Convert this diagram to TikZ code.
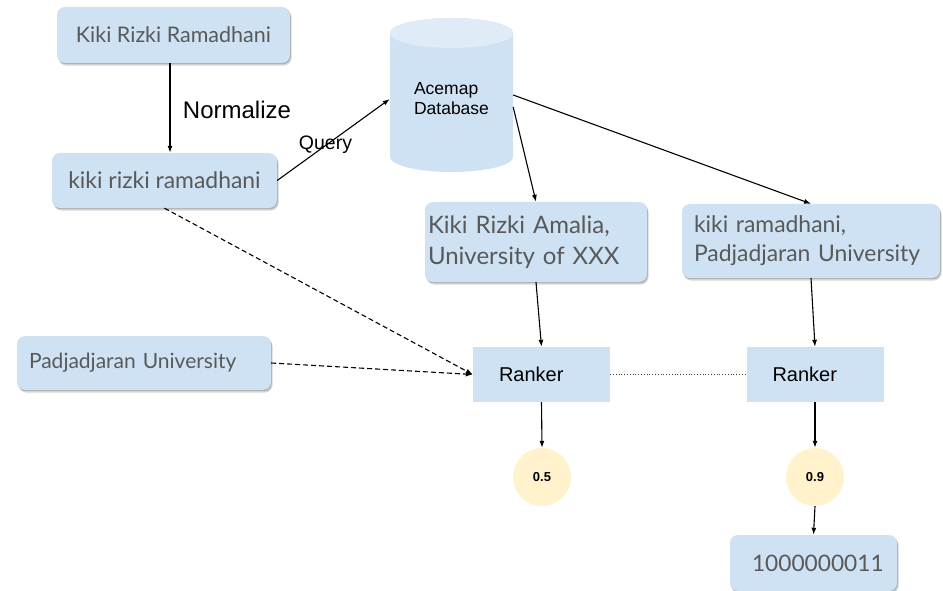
\documentclass[tikz,border=0pt]{standalone}
\usepackage{fontspec}
\setmainfont{Liberation Sans}
\newfontfamily\lato{Lato}
\usetikzlibrary{arrows.meta,shadows}
\definecolor{boxblue}{HTML}{CFE2F3}
\definecolor{dbtop}{HTML}{DFEBF7}
\definecolor{scorefill}{HTML}{FFF2CC}
\definecolor{labelgray}{HTML}{595959}
\tikzset{
  softshadow/.style={
    general shadow={shadow xshift=0.8pt, shadow yshift=-1.2pt, fill=black, opacity=0.18},
    general shadow={shadow xshift=1.6pt, shadow yshift=-2.6pt, fill=black, opacity=0.16}},
  namebox/.style={rounded corners=8pt, fill=boxblue, softshadow, text=labelgray,
    font=\lato\fontsize{21.5}{30}\selectfont, inner ysep=0pt},
  rankbox/.style={fill=boxblue, minimum width=137pt, minimum height=55pt,
    inner xsep=26pt, text width=85pt, align=left,
    font=\fontsize{20}{24}\selectfont},
  score/.style={circle, fill=scorefill, minimum size=58pt, inner sep=0pt,
    font=\bfseries\fontsize{13}{15}\selectfont},
  arr/.style={-{Latex[length=7pt,width=5pt]}, line width=1.1pt},
  dasharr/.style={arr, dash pattern=on 5pt off 3pt},
}
\begin{document}
\begin{tikzpicture}[x=1pt, y=-1pt]
\useasboundingbox (0,0) rectangle (943,591);

% database cylinder
\fill[boxblue] (390,33) -- (390,157)
  arc[start angle=180, end angle=0, x radius=61.5, y radius=15]
  -- (513,33) arc[start angle=0, end angle=-180, x radius=61.5, y radius=15] -- cycle;
\fill[dbtop] (451.5,33) ellipse [x radius=61.5, y radius=15];
\node (db) at (451.5,99) [minimum width=123pt, minimum height=154pt, inner sep=0pt,
  align=left, font=\fontsize{17.5}{20}\selectfont] {Acemap\\Database};

% name boxes
\node[namebox, minimum width=233pt, minimum height=56pt] (raw) at (173.5,35) {Kiki Rizki Ramadhani};
\node[namebox, minimum width=225pt, minimum height=55pt,
  font=\lato\fontsize{22.9}{30}\selectfont] (norm) at (164.5,180.5) {kiki rizki ramadhani};
\node[namebox, minimum height=54pt, inner xsep=12pt, text width=230pt, align=left,
  font=\lato\fontsize{21}{26}\selectfont] (aff) at (144,363) {Padjadjaran University};
\node[namebox, minimum height=80pt, inner xsep=3pt, text width=216pt, align=left,
  font=\lato\fontsize{24}{31}\selectfont] (candA) at (536,242)
  {Kiki Rizki Amalia,\\University of XXX};
\node[namebox, minimum height=74pt, inner xsep=12pt, text width=234pt, align=left,
  font=\lato\fontsize{22.9}{29}\selectfont] (candB) at (811,241)
  {kiki ramadhani,\\Padjadjaran University};
\node[namebox, minimum height=56pt, inner xsep=22pt, text width=123pt, align=left,
  font=\lato\fontsize{22.7}{28}\selectfont] (result) at (813.5,563) {1000000011};

% rankers and scores
\node[rankbox] (rankA) at (541.5,374.5) {Ranker};
\node[rankbox] (rankB) at (815,374.5) {Ranker};
\node[score] (sA) at (542,477) {0.5};
\node[score] (sB) at (815,477) {0.9};

% labels
\node[font=\fontsize{24}{28}\selectfont] (normlabel) at (237,110) {Normalize};
\node[font=\fontsize{19.5}{22}\selectfont] (querylabel) at (325.5,145) {Query};

% connectors
\draw[arr] ([xshift=-3.5pt]raw.south) -- ([xshift=-3.5pt]raw.south |- norm.north);
\draw[arr] (norm.east) -- (db.west);
\draw[arr] ([yshift=-8pt]db.east) -- (candA.north);
\draw[arr] ([yshift=4pt]db.east) -- (candB.north);
\draw[arr] (candA.south) -- (rankA.north);
\draw[arr] (candB.south) -- (rankB.north);
\draw[dasharr] (norm.south) -- (rankA.west);
\draw[dasharr] (aff.east) -- (rankA.west);
\draw[dotted, line width=0.8pt, black!75] (rankA.east) -- (rankB.west);
\draw[arr] (rankA.south) -- (sA.north);
\draw[arr] (rankB.south) -- (sB.north);
\draw[arr] (sB.south) -- (result.north);
\end{tikzpicture}
\end{document}
